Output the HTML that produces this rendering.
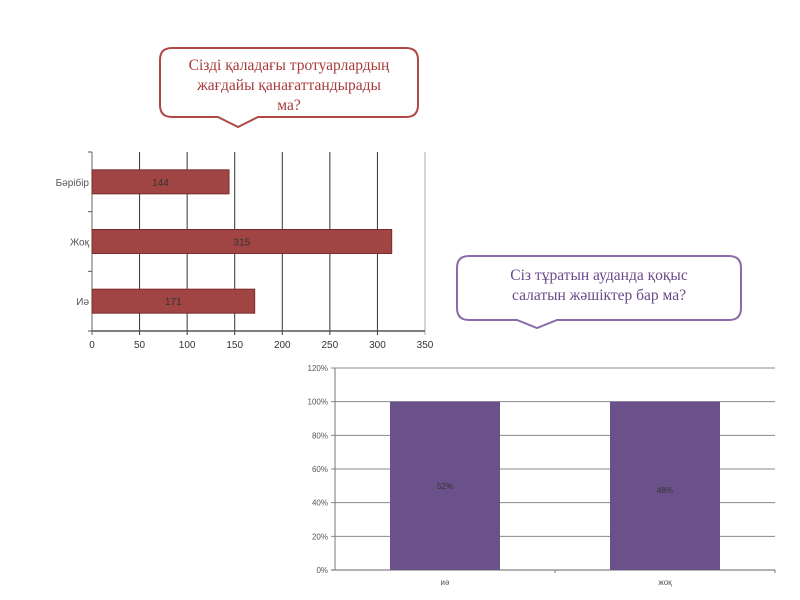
<!DOCTYPE html>
<html><head><meta charset="utf-8"><style>
body{margin:0;width:800px;height:600px;background:#fff;overflow:hidden;font-family:"Liberation Sans",sans-serif}
svg{position:absolute;left:0;top:0}
</style></head><body>
<svg width="800" height="600">
<g>
<path d="M172,48 H406 Q418,48 418,60 V105 Q418,117 406,117 H258 L238,127 L218,117 H172 Q160,117 160,105 V60 Q160,48 172,48 Z" fill="#fff" stroke="#b04848" stroke-width="2"/>
<text x="289" y="70" text-anchor="middle" font-family="Liberation Serif,serif" font-size="15.5" fill="#a83a3a"><tspan x="289">Сізді қаладағы тротуарлардың</tspan><tspan x="289" dy="20">жағдайы қанағаттандырады</tspan><tspan x="289" dy="20">ма?</tspan></text>
</g>
<g>
<path d="M469,256 H729 Q741,256 741,268 V308 Q741,320 729,320 H557 L537,328 L517,320 H469 Q457,320 457,308 V268 Q457,256 469,256 Z" fill="#fff" stroke="#8a6aa8" stroke-width="2"/>
<text x="599" y="280" text-anchor="middle" font-family="Liberation Serif,serif" font-size="15.5" fill="#6a4a8a"><tspan x="599">Сіз тұратын ауданда қоқыс</tspan><tspan x="599" dy="20">салатын жәшіктер бар ма?</tspan></text>
</g>
<g id="c1"></g>
<g id="c2"></g>
</svg>
<script>
const cats1=["Иә","Жоқ","Бәрібір"];
const vals1=[171,315,144];
const ticks1=[0,50,100,150,200,250,300,350];
const cats2=["иә","жоқ"];
const vals2=[100,100];
const labels2=["52%","48%"];
const ticks2=[0,20,40,60,80,100,120];
const NS="http://www.w3.org/2000/svg";
function mk(p,t,a){const e=document.createElementNS(NS,t);for(const k in a)e.setAttribute(k,a[k]);p.appendChild(e);return e;}
// chart 1
const g1=document.getElementById('c1');
const L=92,R=425,T=152,B=331;
const x1=v=>L+v/350*(R-L);
const band=(B-T)/cats1.length;
const y1=i=>B-band*(i+0.5);
ticks1.forEach(t=>{
 const l=mk(g1,'line',{x1:x1(t),x2:x1(t),y1:T,y2:B+4,stroke:t===0?'#666':(t===350?'#aaa':'#333'),'stroke-width':1});
 
 
 const tx=mk(g1,'text',{x:x1(t),y:B+17,'text-anchor':'middle','font-size':10,fill:'#333'});tx.textContent=t;
 
 
});
const ax=mk(g1,'line',{x1:L,x2:R,y1:B,y2:B,stroke:'#555','stroke-width':1.5});


for(let i=0;i<=cats1.length;i++){mk(g1,'line',{x1:L-4,x2:L,y1:T+band*i,y2:T+band*i,stroke:'#555'});}
cats1.forEach((c,i)=>{
 const y=y1(i);
 const r=mk(g1,'rect',{x:L,y:y-12,width:x1(vals1[i])-L,height:24,fill:'#a04544',stroke:'#7a2b2b','stroke-width':1});
 
 
 const v=mk(g1,'text',{x:(L+x1(vals1[i]))/2,y:y+4,'text-anchor':'middle','font-size':10,fill:'#333'});v.textContent=vals1[i];
 
 
 const lb=mk(g1,'text',{x:L-3,y:y+4,'text-anchor':'end','font-size':10,fill:'#555'});lb.textContent=c;
 
 
});
// chart 2
const g2=document.getElementById('c2');
const L2=335,R2=775,T2=368,B2=570;
const y2=v=>B2-v/120*(B2-T2);
ticks2.forEach(t=>{
 const l=mk(g2,'line',{x1:L2-4,x2:R2,y1:y2(t),y2:y2(t),stroke:t===0?'#666':'#888','stroke-width':1});
 
 
 const tx=mk(g2,'text',{x:L2-7,y:y2(t)+3,'text-anchor':'end','font-size':8,fill:'#555'});tx.textContent=t+'%';
 
 
});
mk(g2,'line',{x1:L2,x2:L2,y1:T2,y2:B2,stroke:'#777'});
const bw2=(R2-L2)/cats2.length;
mk(g2,'line',{x1:L2+bw2,x2:L2+bw2,y1:B2,y2:B2+3,stroke:'#777'});
mk(g2,'line',{x1:R2,x2:R2,y1:B2,y2:B2+3,stroke:'#777'});
cats2.forEach((c,i)=>{
 const cx=L2+bw2*(i+0.5),w=110;
 const r=mk(g2,'rect',{x:cx-w/2,y:y2(vals2[i]),width:w,height:B2-y2(vals2[i]),fill:'#6b5189'});
 
 
 const v=mk(g2,'text',{x:cx,y:(y2(vals2[i])+B2)/2+3+i*4,'text-anchor':'middle','font-size':8,fill:'#333'});v.textContent=labels2[i];
 
 
 const lb=mk(g2,'text',{x:cx,y:B2+15,'text-anchor':'middle','font-size':8,fill:'#555'});lb.textContent=c;
 
 
});
</script>
</body></html>
